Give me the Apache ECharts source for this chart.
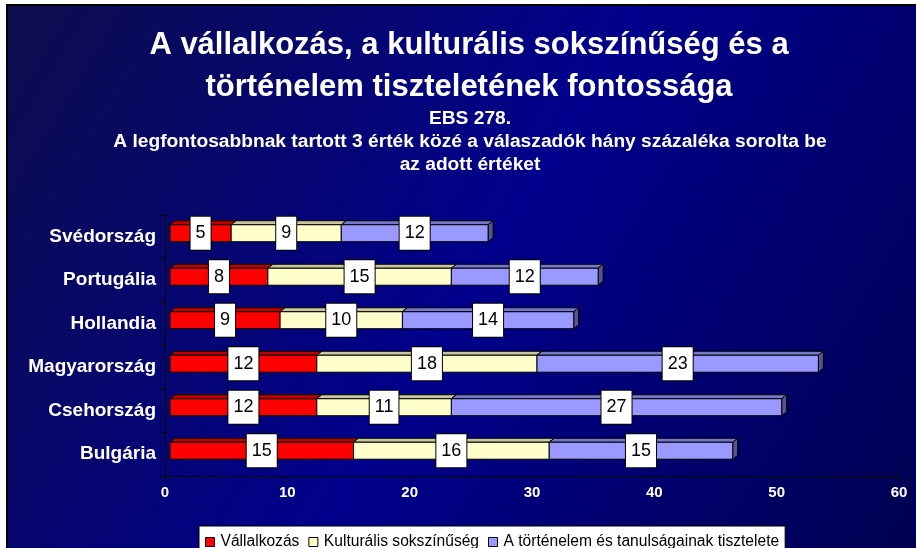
<!DOCTYPE html>
<html>
<head>
<meta charset="utf-8">
<script src="https://cdn.jsdelivr.net/npm/echarts@6/dist/echarts.min.js"></script>
<style>
html,body{margin:0;padding:0;background:#fff;}
#main{width:916px;height:548px;}
</style>
</head>
<body>
<div id="main"></div>
<script>
const categories = ['Svédország', 'Portugália', 'Hollandia', 'Magyarország', 'Csehország', 'Bulgária'];
const vallalkozas = [5, 8, 9, 12, 12, 15];
const kulturalis = [9, 15, 10, 18, 11, 16];
const tortenelem = [12, 12, 14, 23, 27, 15];
const seriesNames = ['Vállalkozás', 'Kulturális sokszínűség', 'A történelem és tanulságainak tisztelete'];
const xMin = 0, xMax = 60, xInterval = 10;

const FONT = '"Liberation Sans", Arial, sans-serif';
const fronts = ['#ff0000', '#ffffcc', '#9999ff'];
const tops = ['#c00000', '#c8c8a0', '#7777cc'];
const sides = ['#800000', '#9a9a78', '#55558a'];

const valueSets = [vallalkozas, kulturalis, tortenelem];
function buildData(k) {
  return categories.map((c, i) => {
    let start = 0;
    for (let j = 0; j < k; j++) start += valueSets[j][i];
    return [start, start + valueSets[k][i], i, valueSets[k][i]];
  });
}

function makeRender(k) {
  return function (params, api) {
    const s = api.value(0), e = api.value(1), c = api.value(2), v = api.value(3);
    const p0 = api.coord([s, c]);
    const p1 = api.coord([e, c]);
    const band = api.size([0, 1])[1];
    const ox = 5, dx = 5, dy = 4;
    const h = band * 0.39;
    const top = p0[1] - band * 0.276;
    const x0 = p0[0] + ox, x1 = p1[0] + ox;
    return {
      type: 'group',
      children: [
        { type: 'polygon', shape: { points: [[x0, top], [x0 + dx, top - dy], [x1 + dx, top - dy], [x1, top]] },
          style: { fill: tops[k], stroke: '#000', lineWidth: 1 } },
        { type: 'polygon', shape: { points: [[x1, top], [x1 + dx, top - dy], [x1 + dx, top + h - dy], [x1, top + h]] },
          style: { fill: sides[k], stroke: '#000', lineWidth: 1 } },
        { type: 'rect', shape: { x: x0, y: top, width: x1 - x0, height: h },
          style: { fill: fronts[k], stroke: '#000', lineWidth: 1 } },
        { type: 'text', z2: 100,
          style: { text: String(v), x: (x0 + x1) / 2, y: top + h / 2, align: 'center', verticalAlign: 'middle',
            fill: '#000', fontSize: 18, fontFamily: FONT, lineHeight: 19,
            backgroundColor: '#fff', borderColor: '#000', borderWidth: 1, padding: [7, 5] } }
      ]
    };
  };
}

const chart = echarts.init(document.getElementById('main'), null, { renderer: 'canvas' });
chart.setOption({
  animation: false,
  backgroundColor: '#fff',
  graphic: [{
    type: 'rect', z: -10, silent: true,
    shape: { x: 7, y: 5, width: 930, height: 560 },
    style: {
      fill: new echarts.graphic.LinearGradient(0, 0, 1, 1, [
        { offset: 0, color: '#0d0d4d' },
        { offset: 0.5, color: '#00008c' },
        { offset: 1, color: '#00004d' }
      ]),
      stroke: '#000', lineWidth: 2
    }
  }],
  title: [
    { text: 'A vállalkozás, a kulturális sokszínűség és a\ntörténelem tiszteletének fontossága',
      left: 469, top: 24, padding: 0, textAlign: 'center',
      textStyle: { color: '#fff', fontSize: 31, fontWeight: 'bold', fontFamily: FONT, lineHeight: 42 } },
    { text: 'EBS 278.\nA legfontosabbnak tartott 3 érték közé a válaszadók hány százaléka sorolta be\naz adott értéket',
      left: 470, top: 107, padding: 0, textAlign: 'center',
      textStyle: { color: '#fff', fontSize: 19.2, fontWeight: 'bold', fontFamily: FONT, lineHeight: 23 } }
  ],
  legend: {
    left: 199, top: 526,
    data: seriesNames.map((n, k) => ({ name: n, itemStyle: { color: fronts[k], borderColor: '#000', borderWidth: 1 } })),
    icon: 'rect', itemWidth: 9, itemHeight: 9, itemGap: 9,
    backgroundColor: '#fff', borderColor: '#000', borderWidth: 1, padding: [8, 6, 8, 6],
    textStyle: { color: '#000', fontSize: 15.6, fontFamily: FONT, padding: [0, 0, 0, 1] }
  },
  grid: { left: 165, right: 17, top: 215, bottom: 72 },
  xAxis: {
    type: 'value', min: xMin, max: xMax, interval: xInterval,
    axisLine: { show: true, lineStyle: { color: '#000', width: 1 } },
    axisTick: { show: true, length: 5, lineStyle: { color: '#000' } },
    splitLine: { show: false },
    axisLabel: { color: '#fff', fontSize: 15, fontWeight: 'bold', fontFamily: FONT, margin: 9 }
  },
  yAxis: {
    type: 'category', data: categories, inverse: true,
    axisLine: { show: true, lineStyle: { color: '#000', width: 1 } },
    axisTick: { show: true, length: 5, lineStyle: { color: '#000' } },
    axisLabel: { color: '#fff', fontSize: 19, fontWeight: 'bold', fontFamily: FONT, margin: 9 }
  },
  series: [0, 1, 2].map(k => ({
    type: 'custom', name: seriesNames[k],
    itemStyle: { color: fronts[k] },
    renderItem: makeRender(k),
    encode: { x: [0, 1], y: 2 },
    data: buildData(k)
  }))
});
</script>
</body>
</html>
